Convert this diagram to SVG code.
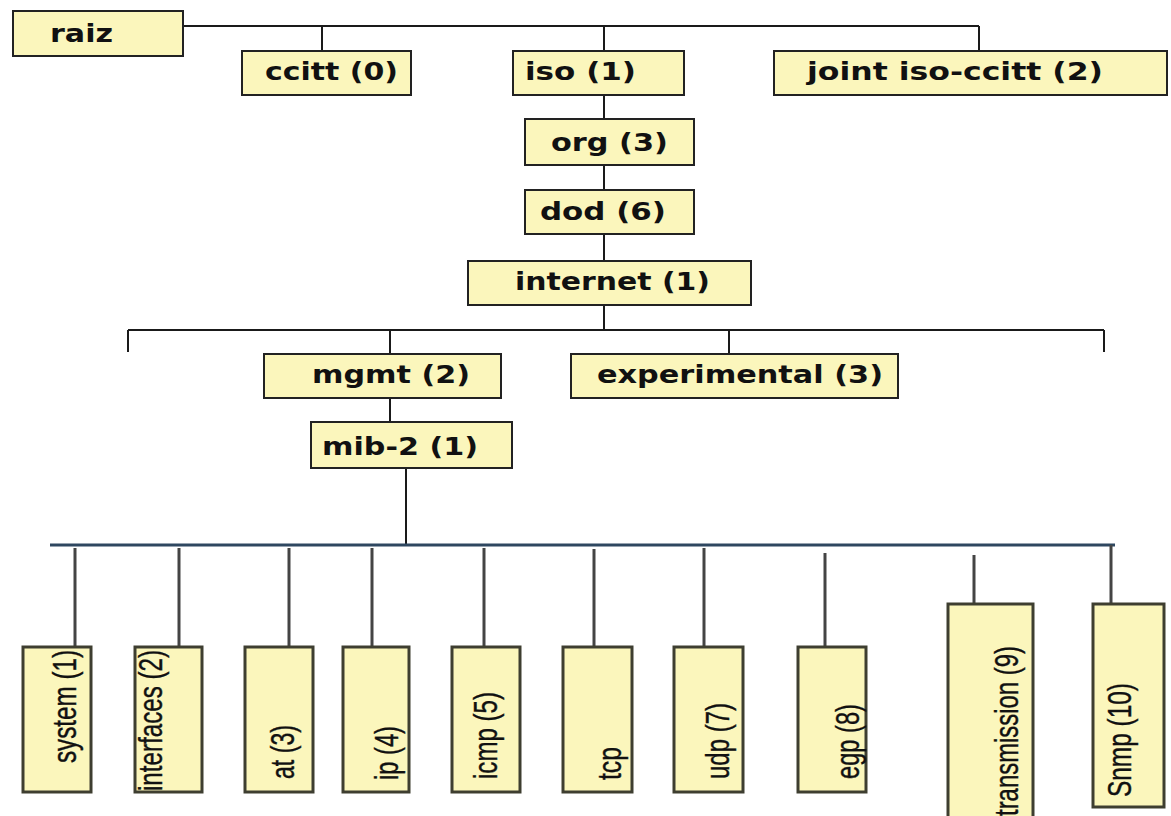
<svg xmlns="http://www.w3.org/2000/svg" width="1171" height="816" viewBox="0 0 1171 816">
<style>
.box{fill:#fbf6bc;stroke:#222;stroke-width:2}
.leaf{fill:#fbf6bc;stroke:#3e3e30;stroke-width:3}
.t{font-family:"DejaVu Sans","Liberation Sans",sans-serif;font-weight:bold;font-size:25px;fill:#111}
.v{font-family:"Liberation Sans Narrow","Liberation Sans",sans-serif;font-size:33px;fill:#111;stroke:#111;stroke-width:0.4}
.ln{stroke:#1a1a1a;stroke-width:2;fill:none}
.st{stroke:#444;stroke-width:3;fill:none}
.bus{stroke:#2e4760;stroke-width:3;fill:none}
</style>
<rect width="1171" height="816" fill="#ffffff"/>
<g id="connectors">
<path class="ln" d="M183 26H979M322 26V51M604 26V51M979 26V51"/>
<path class="ln" d="M604 95V119M604 165V190M604 234V261M604 305V330"/>
<path class="ln" d="M128 330H1104M128 330V352M1104 330V352M390 330V354M729 330V354"/>
<path class="ln" d="M390 398V422M406 468V545"/>
<path class="bus" d="M50 545H1115"/>
<path class="st" d="M75 548V647M179 548V647M289 548V647M372 548V647M484 548V647M594 549V647M704 548V647M825 553V647M974 555V604M1111 545V604"/>
</g>
<g id="raiz"><rect class="box" x="13" y="11" width="170" height="45"/><text class="t" x="50" y="42" textLength="63" lengthAdjust="spacingAndGlyphs">raiz</text></g>
<g id="ccitt"><rect class="box" x="242" y="51" width="169" height="44"/><text class="t" x="265" y="80" textLength="133" lengthAdjust="spacingAndGlyphs">ccitt (0)</text></g>
<g id="iso"><rect class="box" x="513" y="51" width="171" height="44"/><text class="t" x="525" y="80" textLength="111" lengthAdjust="spacingAndGlyphs">iso (1)</text></g>
<g id="joint"><rect class="box" x="774" y="51" width="393" height="44"/><text class="t" x="807" y="80" textLength="296" lengthAdjust="spacingAndGlyphs">joint iso-ccitt (2)</text></g>
<g id="org"><rect class="box" x="525" y="119" width="169" height="46"/><text class="t" x="551" y="151" textLength="117" lengthAdjust="spacingAndGlyphs">org (3)</text></g>
<g id="dod"><rect class="box" x="525" y="190" width="169" height="44"/><text class="t" x="540" y="220" textLength="126" lengthAdjust="spacingAndGlyphs">dod (6)</text></g>
<g id="internet"><rect class="box" x="468" y="261" width="283" height="44"/><text class="t" x="515" y="290" textLength="195" lengthAdjust="spacingAndGlyphs">internet (1)</text></g>
<g id="mgmt"><rect class="box" x="264" y="354" width="237" height="44"/><text class="t" x="312" y="383" textLength="158" lengthAdjust="spacingAndGlyphs">mgmt (2)</text></g>
<g id="experimental"><rect class="box" x="571" y="354" width="327" height="44"/><text class="t" x="597" y="383" textLength="286" lengthAdjust="spacingAndGlyphs">experimental (3)</text></g>
<g id="mib2"><rect class="box" x="311" y="422" width="201" height="46"/><text class="t" x="322" y="455" textLength="156" lengthAdjust="spacingAndGlyphs">mib-2 (1)</text></g>
<g id="system"><rect class="leaf" x="23" y="647" width="68" height="145"/><text class="v" transform="translate(76 763) rotate(-90)" textLength="113" lengthAdjust="spacingAndGlyphs">system (1)</text></g>
<g id="interfaces"><rect class="leaf" x="135" y="647" width="67" height="145"/><text class="v" transform="translate(162 791) rotate(-90)" textLength="141" lengthAdjust="spacingAndGlyphs">interfaces (2)</text></g>
<g id="at"><rect class="leaf" x="245" y="647" width="68" height="145"/><text class="v" transform="translate(294 779) rotate(-90)" textLength="54" lengthAdjust="spacingAndGlyphs">at (3)</text></g>
<g id="ip"><rect class="leaf" x="343" y="647" width="66" height="145"/><text class="v" transform="translate(398 780) rotate(-90)" textLength="54" lengthAdjust="spacingAndGlyphs">ip (4)</text></g>
<g id="icmp"><rect class="leaf" x="452" y="647" width="68" height="145"/><text class="v" transform="translate(497 779) rotate(-90)" textLength="87" lengthAdjust="spacingAndGlyphs">icmp (5)</text></g>
<g id="tcp"><rect class="leaf" x="563" y="647" width="69" height="145"/><text class="v" transform="translate(621 780) rotate(-90)" textLength="33" lengthAdjust="spacingAndGlyphs">tcp</text></g>
<g id="udp"><rect class="leaf" x="674" y="647" width="69" height="145"/><text class="v" transform="translate(729 779) rotate(-90)" textLength="76" lengthAdjust="spacingAndGlyphs">udp (7)</text></g>
<g id="egp"><rect class="leaf" x="798" y="647" width="68" height="145"/><text class="v" transform="translate(859 779) rotate(-90)" textLength="75" lengthAdjust="spacingAndGlyphs">egp (8)</text></g>
<g id="transmission"><rect class="leaf" x="948" y="604" width="85" height="230"/><text class="v" transform="translate(1018 816) rotate(-90)" textLength="170" lengthAdjust="spacingAndGlyphs">transmission (9)</text></g>
<g id="snmp"><rect class="leaf" x="1093" y="604" width="71" height="203"/><text class="v" transform="translate(1131 797) rotate(-90)" textLength="114" lengthAdjust="spacingAndGlyphs">Snmp (10)</text></g>
</svg>
